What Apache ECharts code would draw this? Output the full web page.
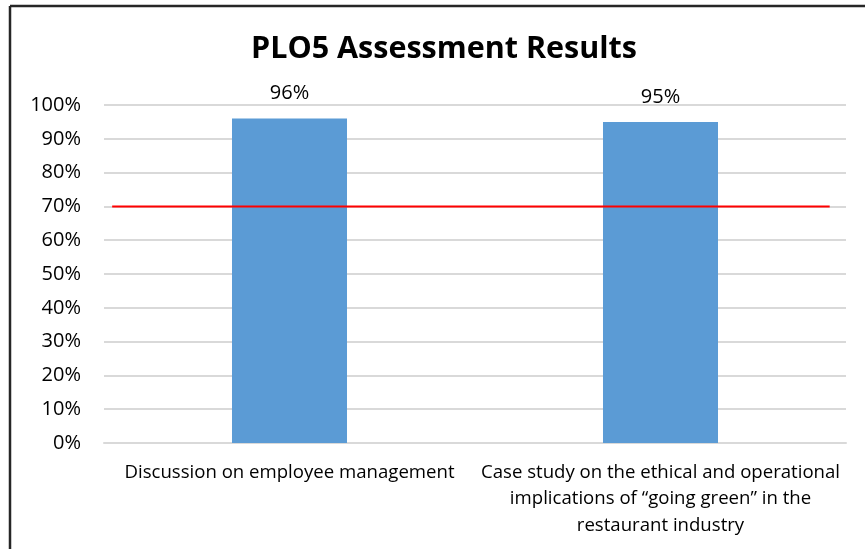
<!DOCTYPE html>
<html>
<head>
<meta charset="utf-8">
<title>PLO5 Assessment Results</title>
<script src="https://cdn.jsdelivr.net/npm/echarts@6/dist/echarts.min.js"></script>
<style>
    html,body{
        margin:0;
        padding:0;
        background:#ffffff;
    }
    #plo5Chart{
        width:865px;
        height:549px;
    }
</style>
</head>
<body>

<div id="plo5Chart"></div>

<script>

// chart data
const categories=[
    "Discussion on employee management",
    "Case study on the ethical and operational\nimplications of \u201cgoing green\u201d in the\nrestaurant industry"
];

const scores=[0.96,0.95];

const target=0.70;

// where the target line starts / stops across the plot (0..1 of width)
const targetSpan=[0.011,0.978];

const yTicks=[0,0.1,0.2,0.3,0.4,0.5,0.6,0.7,0.8,0.9,1.0];

const FONT="'Open Sans', Lato, sans-serif";

const container=document.getElementById("plo5Chart");

const chart=echarts.init(container);

chart.setOption({

    animation:false,

    title:{
        text:"PLO5 Assessment Results",
        left:246,
        top:29,
        textStyle:{
            fontFamily:FONT,
            fontSize:30.5,
            fontWeight:"bold",
            color:"#000000"
        }
    },

    // frame round the chart, as cropped in the source slide
    graphic:[
        {
            type:"line",
            shape:{x1:10,y1:6,x2:10,y2:549},
            style:{stroke:"#262626",lineWidth:2.5}
        },
        {
            type:"line",
            shape:{x1:10,y1:6,x2:865,y2:6},
            style:{stroke:"#262626",lineWidth:2.5}
        }
    ],

    grid:{
        left:104,
        right:19,
        top:105,
        bottom:106,
        outerBoundsMode:"none"
    },

    xAxis:[
        {
            type:"category",
            data:categories,
            axisTick:{show:false},
            axisLine:{
                lineStyle:{color:"#d9d9d9",width:2}
            },
            axisLabel:{
                interval:0,
                margin:16,
                fontFamily:FONT,
                fontSize:18.6,
                lineHeight:26.5,
                color:"#000000"
            }
        },
        {
            // hidden axis for the target line
            type:"value",
            min:0,
            max:1,
            show:false
        }
    ],

    yAxis:{
        type:"value",
        min:yTicks[0],
        max:yTicks[yTicks.length-1],
        interval:0.1,
        axisLine:{show:false},
        axisTick:{show:false},
        splitLine:{
            lineStyle:{color:"#d9d9d9",width:2}
        },
        axisLabel:{
            margin:23,
            fontFamily:FONT,
            fontSize:20,
            color:"#000000",
            formatter:v=>Math.round(v*100)+"%"
        }
    },

    series:[
        {
            name:"Score",
            type:"bar",
            data:scores,
            barWidth:"31%",
            itemStyle:{color:"#5b9bd5"},
            label:{
                show:true,
                position:"top",
                distance:15,
                fontFamily:FONT,
                fontSize:20,
                color:"#000000",
                formatter:p=>Math.round(p.value*100)+"%"
            }
        },
        {
            name:"Target",
            type:"line",
            xAxisIndex:1,
            data:targetSpan.map(x=>[x,target]),
            symbol:"none",
            lineStyle:{color:"#ff0000",width:2}
        }
    ]

});

window.addEventListener(
    "resize",
    ()=>chart.resize()
);

</script>
</body>
</html>
